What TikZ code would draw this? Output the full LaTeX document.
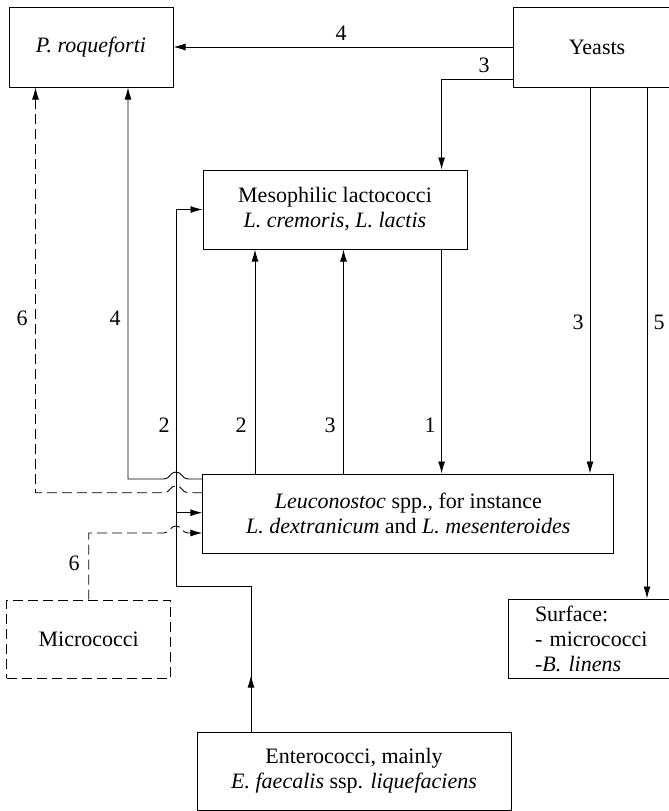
\documentclass[tikz,border=0pt]{standalone}
\usepackage{fontspec}
\setmainfont{Liberation Serif}
\usetikzlibrary{arrows.meta}
\begin{document}
\begin{tikzpicture}[x=1pt,y=-1pt,
  box/.style={draw, line width=1pt, inner sep=0pt, align=center,
    font=\fontsize{22}{25}\selectfont},
  conn/.style={line width=0.9pt},
  arr/.style={-{Latex[length=12pt,width=7pt]}},
  dsh/.style={dash pattern=on 10pt off 5pt},
  lbl/.style={inner sep=0pt, font=\fontsize{22}{25}\selectfont}]
\useasboundingbox (0,0) rectangle (669,811);
\clip (0,0) rectangle (669,811);

% boxes
\node[box, minimum width=164pt, minimum height=80pt] (proq) at (91,47) {\textit{P. roqueforti}};
\node[box, minimum width=168pt, minimum height=80pt] (yeasts) at (597,47) {Yeasts};
\node[box, minimum width=264pt, minimum height=79pt] (meso) at (335,209.5)
  {Mesophilic lactococci\\\textit{L. cremoris}, \textit{L. lactis}};
\node[box, minimum width=411pt, minimum height=79pt] (leuc) at (408.3,513.5)
  {\textit{Leuconostoc} spp., for instance\\\textit{L. dextranicum} and \textit{L. mesenteroides}};
\node[box, dsh, minimum width=164pt, minimum height=78pt] (micro) at (88.7,639) {Micrococci};
\node[box, align=left, text width=128pt, inner xsep=27pt, minimum height=79pt] (surf) at (599,638.5)
  {Surface:\\- micrococci\\\textit{-B. linens}};
\node[box, minimum width=314pt, minimum height=78pt] (entero) at (354,771)
  {Enterococci, mainly\\\textit{E. faecalis} ssp. \textit{liquefaciens}};

% yeasts connectors
\draw[conn,arr] (yeasts.west) -- (proq.east);
\draw[conn,arr] ([yshift=-32pt]yeasts.west) -| ([xshift=106.6pt]meso.north);
\draw[conn,arr] ([xshift=-7pt]yeasts.south) -- ([xshift=-7pt]yeasts.south |- leuc.north);
\draw[conn,arr] ([xshift=50pt]yeasts.south) -- ([xshift=50pt]yeasts.south |- surf.north);

% meso <-> leuc
\draw[conn,arr] ([xshift=106.6pt]meso.south) -- ([xshift=106.6pt]meso.south |- leuc.north);
\draw[conn,arr] ([xshift=-80pt]meso.south |- leuc.north) -- ([xshift=-80pt]meso.south);
\draw[conn,arr] ([xshift=8.5pt]meso.south |- leuc.north) -- ([xshift=8.5pt]meso.south);

% leuc -> proq (4)
\draw[conn,arr] ([yshift=34.5pt]leuc.west) -- (188,479)
  .. controls (182,479) and (182,472) .. (176,472)
  .. controls (170,472) and (170,479) .. (164,479)
  -| ([xshift=37pt]proq.south);
% leuc -> proq (6, dashed)
\draw[conn,dsh,arr] ([yshift=20.8pt]leuc.west) -- (188,492.7)
  .. controls (182,492.7) and (182,485.7) .. (176,485.7)
  .. controls (170,485.7) and (170,492.7) .. (164,492.7)
  -| ([xshift=-55.5pt]proq.south);

% entero -> meso (2)
\coordinate (ecorner) at (176,586);
\draw[conn,arr] ([xshift=-103pt]entero.north) -- ++(0,-56);
\draw[conn,arr] ([xshift=-103pt]entero.north) |- (ecorner) |- (meso.west);
\coordinate (br) at (176,512.7);
\draw[conn,arr] (br) -- (br -| leuc.west);

% micro -> leuc (6, dashed)
\draw[conn,dsh,arr] (micro.north) -- (88.7,533) -- (164,533)
  .. controls (170,533) and (170,526) .. (176,526)
  .. controls (182,526) and (182,533) .. (188,533)
  -- ([yshift=-19.5pt]leuc.west);

% labels
\node[lbl] (l4a) at (341,33) {4};
\node[lbl] (l3a) at (484,65) {3};
\node[lbl] (l6a) at (22,318) {6};
\node[lbl] (l4b) at (115,318) {4};
\node[lbl] (l3b) at (578,322) {3};
\node[lbl] (l5) at (659,322) {5};
\node[lbl] (l2a) at (164,425) {2};
\node[lbl] (l2b) at (241,425) {2};
\node[lbl] (l3c) at (330,425) {3};
\node[lbl] (l1) at (430,425) {1};
\node[lbl] (l6b) at (74,563) {6};
\end{tikzpicture}
\end{document}
